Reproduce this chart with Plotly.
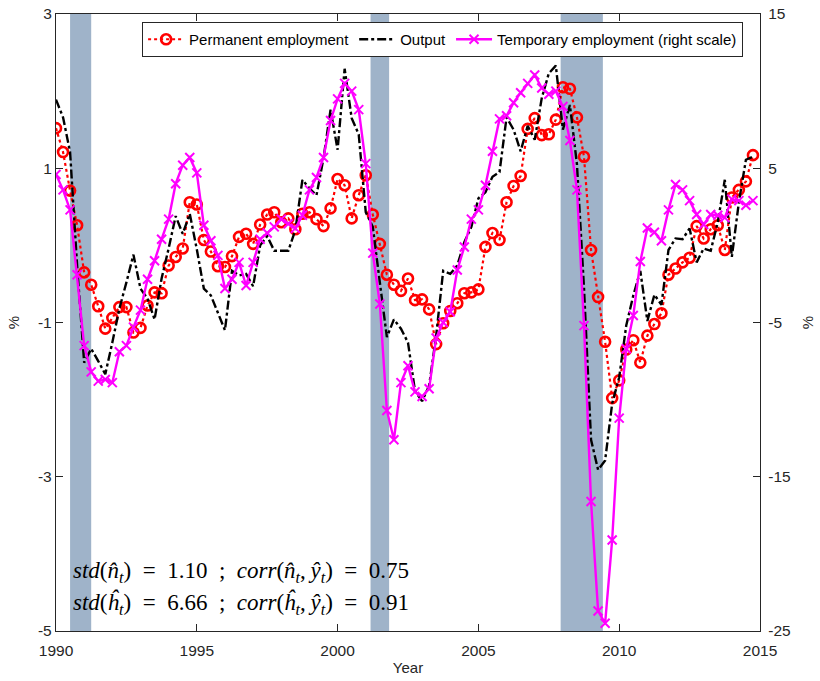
import plotly.graph_objects as go

# Quarterly dates, 1990Q1 .. 2014Q4
start_year = 1990
n_quarters = 100
dates = [start_year + 0.25 * i for i in range(n_quarters)]

# Permanent employment, % deviation (left scale)
permanent = [
    1.52, 1.21, 0.71, 0.26, -0.35, -0.51, -0.79, -1.08, -0.94, -0.80,
    -0.80, -1.13, -1.07, -0.78, -0.61, -0.62, -0.26, -0.15, -0.04, 0.56,
    0.53, 0.07, -0.08, -0.27, -0.28, -0.14, 0.11, 0.15, 0.02, 0.27,
    0.40, 0.43, 0.30, 0.35, 0.21, 0.41, 0.43, 0.34, 0.25, 0.48,
    0.86, 0.78, 0.35, 0.65, 0.91, 0.40, 0.02, -0.38, -0.51, -0.59,
    -0.43, -0.71, -0.70, -0.83, -1.28, -1.01, -0.85, -0.75, -0.62, -0.61,
    -0.57, -0.02, 0.16, 0.07, 0.56, 0.77, 0.90, 1.51, 1.65, 1.43,
    1.44, 1.63, 2.05, 2.03, 1.66, 1.15, -0.06, -0.67, -1.25, -1.98,
    -1.75, -1.35, -1.23, -1.52, -1.17, -1.02, -0.88, -0.38, -0.30, -0.22,
    -0.16, 0.25, 0.09, 0.21, 0.26, -0.06, 0.62, 0.72, 0.83, 1.17,
]

# Output, % deviation (left scale)
output = [
    1.89, 1.66, 1.21, -0.26, -1.52, -1.34, -1.50, -1.67, -1.26, -0.82,
    -0.48, -0.12, -0.56, -0.69, -0.96, -0.43, -0.04, 0.38, 0.15, 0.41,
    -0.05, -0.56, -0.65, -0.87, -1.10, -0.33, -0.39, -0.37, -0.53, 0.00,
    0.12, -0.07, -0.07, -0.07, 0.20, 0.85, 0.74, 0.65, 1.13, 1.76,
    1.24, 2.29, 1.65, 1.44, 0.43, 0.24, -0.48, -1.19, -0.96, -1.08,
    -1.26, -1.89, -2.02, -1.82, -1.17, -0.33, -0.37, -0.26, 0.04, 0.24,
    0.61, 0.69, 0.89, 0.95, 1.66, 1.50, 1.22, 1.55, 1.37, 1.91,
    2.23, 2.33, 1.50, 1.82, 1.05, -0.55, -2.52, -2.91, -2.79, -2.05,
    -1.71, -1.04, -0.65, -0.33, -0.98, -0.64, -0.77, -0.06, 0.09, 0.08,
    0.22, -0.22, -0.04, -0.07, 0.30, 0.85, -0.15, 0.56, 1.11, 1.15,
]

# Temporary employment, % deviation (right scale)
temporary = [
    4.6, 3.6, 2.3, -1.9, -6.5, -8.2, -8.8, -8.7, -8.9, -6.9,
    -6.5, -5.3, -4.2, -2.2, -1.0, 0.4, 1.7, 4.0, 5.2, 5.7,
    4.7, 1.3, 0.3, -0.65, -2.8, -2.2, -1.1, -2.6, -1.1, 0.4,
    0.8, 1.2, 1.7, 1.4, 1.1, 1.95, 3.6, 4.4, 5.7, 8.1,
    9.5, 10.5, 10.0, 8.8, 5.3, -0.5, -3.8, -10.7, -12.6, -8.9,
    -7.8, -9.5, -9.8, -9.3, -6.0, -5.0, -4.3, -1.6, -0.1, 1.7,
    2.3, 3.9, 6.1, 8.2, 8.4, 9.25, 9.9, 10.5, 11.05, 10.2,
    9.8, 10.0, 9.0, 6.8, 3.6, -5.2, -16.6, -23.7, -24.5, -19.1,
    -11.2, -6.7, -4.55, -1.05, 1.13, 0.85, 0.3, 2.3, 3.95, 3.6,
    2.9, 2.0, 1.35, 2.0, 1.95, 1.8, 3.0, 2.9, 2.6, 2.9,
]

# NBER recessions (start, end)
recession_start = [1990.5, 2001.17, 2007.92]
recession_end = [1991.25, 2001.83, 2009.42]

# Axis ticks
x_ticks = [1990, 1995, 2000, 2005, 2010, 2015]
left_ticks = [3, 1, -1, -3, -5]
right_ticks = [15, 5, -5, -15, -25]

# Summary statistics printed on the chart
SP = "\u2002"   # wider spacing around relations, as in typeset math
TH = "\u2009"
stats_lines = [
    f"<i>std</i>(<i>n\u0302</i><sub><i>t</i></sub>){SP}={SP}1.10{SP};{SP}"
    f"<i>corr</i>(<i>n\u0302</i><sub><i>t</i></sub>,{TH}<i>\u0177</i><sub><i>t</i></sub>){SP}={SP}0.75",
    f"<i>std</i>(<i>\u0125</i><sub><i>t</i></sub>){SP}={SP}6.66{SP};{SP}"
    f"<i>corr</i>(<i>\u0125</i><sub><i>t</i></sub>,{TH}<i>\u0177</i><sub><i>t</i></sub>){SP}={SP}0.91",
]
stats_y = [-4.23, -4.64]

AXIS_COLOR = "#262626"
FONT = "Liberation Sans, Arial, sans-serif"

fig = go.Figure()

fig.add_trace(go.Scatter(
    x=dates, y=permanent, name="Permanent employment",
    mode="lines+markers",
    line=dict(color="#ff0000", width=2.2, dash="dot"),
    marker=dict(symbol="circle-open", size=10, color="#ff0000",
                line=dict(width=2.6, color="#ff0000")),
    yaxis="y",
))

fig.add_trace(go.Scatter(
    x=dates, y=output, name="Output",
    mode="lines",
    line=dict(color="#000000", width=2.4, dash="dashdot"),
    yaxis="y",
))

fig.add_trace(go.Scatter(
    x=dates, y=temporary, name="Temporary employment (right scale)",
    mode="lines+markers",
    line=dict(color="#ff00ff", width=2.4),
    marker=dict(symbol="x-thin-open", size=9, color="#ff00ff",
                line=dict(width=2, color="#ff00ff")),
    yaxis="y2",
))

shapes = []
for x0, x1 in zip(recession_start, recession_end):
    shapes.append(dict(
        type="rect", xref="x", yref="paper", x0=x0, x1=x1, y0=0, y1=1,
        fillcolor="#9fb3c9", line=dict(width=0), layer="below",
    ))

annotations = []
for txt, yv in zip(stats_lines, stats_y):
    annotations.append(dict(
        text=txt, xref="paper", x=0.022, yref="y", y=yv,
        xanchor="left", yanchor="middle", showarrow=False,
        font=dict(family="Liberation Serif, Times New Roman, serif",
                  size=23, color="#000000"),
    ))

fig.update_layout(
    width=820, height=681,
    margin=dict(l=56, r=60, t=14, b=50),
    paper_bgcolor="white", plot_bgcolor="white",
    font=dict(family=FONT, size=15, color=AXIS_COLOR),
    showlegend=True,
    legend=dict(
        orientation="h", x=0.976, y=0.987, xanchor="right", yanchor="top",
        bgcolor="white", bordercolor="#262626", borderwidth=1,
        font=dict(family=FONT, size=15, color="#000000"),
        itemwidth=36, tracegroupgap=0,
    ),
    shapes=shapes,
    annotations=annotations,
    xaxis=dict(
        range=[1990, 2015], tickvals=x_ticks,
        ticktext=[str(v) for v in x_ticks],
        ticks="inside", ticklen=7, tickcolor=AXIS_COLOR,
        showline=True, linecolor=AXIS_COLOR, linewidth=1.3,
        mirror="ticks", showgrid=False, zeroline=False, automargin=False,
        ticklabelstandoff=5,
        title=dict(text="Year", font=dict(size=15), standoff=4),
        tickfont=dict(size=15.5),
    ),
    yaxis=dict(
        range=[-5, 3], tickvals=left_ticks,
        ticktext=[str(v) for v in left_ticks],
        ticks="inside", ticklen=7, tickcolor=AXIS_COLOR,
        showline=True, linecolor=AXIS_COLOR, linewidth=1.3,
        showgrid=False, zeroline=False, automargin=False,
        title=dict(text="%", font=dict(size=15), standoff=14),
        tickfont=dict(size=15.5),
    ),
    yaxis2=dict(
        range=[-25, 15], tickvals=right_ticks,
        ticktext=[str(v) for v in right_ticks],
        overlaying="y", side="right",
        ticks="inside", ticklen=7, tickcolor=AXIS_COLOR,
        showline=True, linecolor=AXIS_COLOR, linewidth=1.3,
        showgrid=False, zeroline=False, automargin=False,
        ticklabelstandoff=4,
        title=dict(text="%", font=dict(size=15), standoff=12),
        tickfont=dict(size=15.5),
    ),
)

fig.write_html("out.html")
